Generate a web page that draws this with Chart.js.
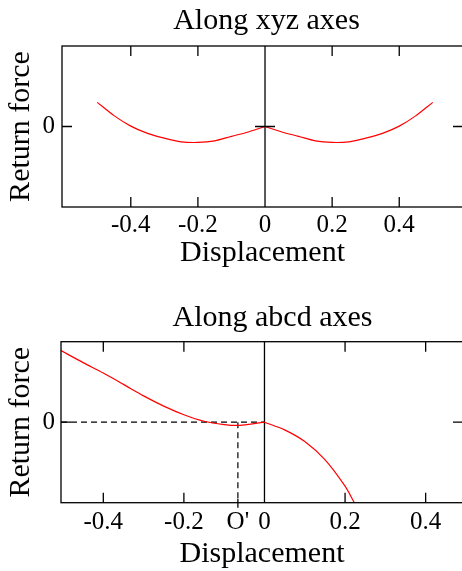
<!DOCTYPE html>
<html>
<head>
<meta charset="utf-8">
<script src="https://cdn.jsdelivr.net/npm/chart.js@4/dist/chart.umd.min.js"></script>
<style>
  html, body { margin: 0; padding: 0; background: #fff; overflow: hidden; }
  canvas { display: block; }
</style>
</head>
<body>
<canvas id="chartXyz" width="533" height="280"></canvas>
<canvas id="chartAbcd" width="545" height="300"></canvas>
<script>
// values (force in arbitrary units, 0 = no return force)
const xyzX = [-0.5, -0.45, -0.4, -0.35, -0.3, -0.25, -0.2, -0.15, -0.1, -0.05, 0,
  0.05, 0.1, 0.15, 0.2, 0.25, 0.3, 0.35, 0.4, 0.45, 0.5];
const xyzForce = [0.3, 0.135, 0.005, -0.085, -0.145, -0.19, -0.198, -0.178, -0.122, -0.068, 0,
  -0.068, -0.122, -0.178, -0.198, -0.19, -0.145, -0.085, 0.005, 0.135, 0.3];
const xyzTicks = [-0.4, -0.2, 0, 0.2, 0.4];
const xyzTickLabels = ["-0.4", "-0.2", "0", "0.2", "0.4"];

const abcdX = [-0.505, -0.45, -0.4, -0.35, -0.3, -0.25, -0.2, -0.15, -0.1, -0.066, -0.03, 0,
  0.05, 0.1, 0.15, 0.2, 0.223];
const abcdForce = [0.89, 0.74, 0.61, 0.47, 0.327, 0.2, 0.093, 0.012, -0.029, -0.04, -0.02, 0,
  -0.095, -0.24, -0.465, -0.795, -1.0];
const oPrime = -0.066;
const abcdTicks = [-0.4, -0.2, oPrime, 0, 0.2, 0.4];
const abcdTickLabels = ["-0.4", "-0.2", "O'", "0", "0.2", "0.4"];

const yTicks = [0];
const yRange = [-1, 1];

Chart.defaults.color = "#000";
Chart.defaults.font.family = "'Liberation Serif', 'Times New Roman', serif";

// frame with inward tick marks, like the old plotting package did
const frameTicks = {
	id: "frameTicks",
	afterDatasetsDraw(chart, args, opts) {
		const { ctx, chartArea: a, scales } = chart;
		const x = scales.x, y = scales.y;
		ctx.save();
		ctx.strokeStyle = "#000";
		ctx.lineWidth = 1.3;
		ctx.strokeRect(a.left, a.top, a.right - a.left, a.bottom - a.top);
		ctx.beginPath();
		opts.marks.forEach((v) => {
			const px = x.getPixelForValue(v);
			ctx.moveTo(px, a.top);
			ctx.lineTo(px, a.top + 10);
			ctx.moveTo(px, a.bottom);
			ctx.lineTo(px, a.bottom - 10);
		});
		(opts.outMarks || []).forEach((v) => {
			const px = x.getPixelForValue(v);
			ctx.moveTo(px, a.bottom - 4);
			ctx.lineTo(px, a.bottom + 5);
		});
		yTicks.forEach((v) => {
			const py = y.getPixelForValue(v);
			ctx.moveTo(a.left, py);
			ctx.lineTo(a.left + 10, py);
			ctx.moveTo(a.right, py);
			ctx.lineTo(a.right - 10, py);
			if (opts.centerTick) {
				const p0 = x.getPixelForValue(0);
				ctx.moveTo(p0 - 10, py);
				ctx.lineTo(p0 + 10, py);
			}
		});
		ctx.stroke();
		ctx.restore();
	},
};

function pts(xs, ys) {
	return xs.map((v, i) => ({ x: v, y: ys[i] }));
}

function makeChart(id, cfg) {
	const ctx = document.getElementById(id).getContext("2d");
	return new Chart(ctx, {
		type: "line",
		data: { datasets: cfg.datasets },
		options: {
			responsive: false,
			animation: false,
			events: [],
			layout: { padding: 0 },
			elements: { point: { radius: 0 } },
			plugins: {
				legend: { display: false },
				tooltip: { enabled: false },
				title: {
					display: true,
					text: cfg.title,
					font: { size: 30, weight: "normal" },
					padding: cfg.titlePad,
				},
				frameTicks: { marks: cfg.marks, outMarks: cfg.outMarks, centerTick: cfg.centerTick },
			},
			scales: {
				x: {
					type: "linear",
					min: cfg.xRange[0],
					max: cfg.xRange[1],
					grid: { display: false, drawTicks: false },
					border: { display: false },
					afterBuildTicks: (s) => {
						s.ticks = cfg.ticks.map((v) => ({ value: v }));
					},
					afterFit: (s) => {
						s.height = cfg.xAxisHeight;
					},
					ticks: {
						autoSkip: false,
						maxRotation: 0,
						minRotation: 0,
						padding: cfg.xTickPad,
						font: { size: 25 },
						callback: (v, i) => cfg.tickLabels[i],
					},
					title: {
						display: true,
						text: "Displacement",
						font: { size: 30 },
						padding: { top: 0, bottom: cfg.xTitlePad },
					},
				},
				y: {
					type: "linear",
					position: "left",
					min: yRange[0],
					max: yRange[1],
					grid: { display: false, drawTicks: false },
					border: { display: false },
					afterBuildTicks: (s) => {
						s.ticks = yTicks.map((v) => ({ value: v }));
					},
					afterFit: (s) => {
						s.width = cfg.yAxisWidth;
					},
					ticks: { padding: cfg.yTickPad, font: { size: 25 } },
					title: {
						display: true,
						text: "Return force",
						font: { size: 30 },
						padding: { top: 3, bottom: 0 },
					},
				},
				// empty axis on the right, the frame runs past the picture edge
				yRight: {
					type: "linear",
					position: "right",
					display: true,
					grid: { display: false, drawTicks: false },
					border: { display: false },
					ticks: { display: false },
					afterFit: (s) => {
						s.width = cfg.rightGap;
					},
				},
			},
		},
		plugins: [frameTicks],
	});
}

const red = { borderColor: "#ff0000", borderWidth: 1.2, tension: 0.3, fill: false };
const black = { borderColor: "#000", borderWidth: 1.3, tension: 0, fill: false };

const xyzZero = xyzX.indexOf(0);
makeChart("chartXyz", {
	title: "Along xyz axes",
	titlePad: { top: 3, bottom: 7 },
	xRange: [-0.605, 0.59],
	ticks: xyzTicks,
	tickLabels: xyzTickLabels,
	marks: [-0.4, -0.2, 0.2, 0.4],
	centerTick: true,
	xAxisHeight: 73,
	xTickPad: 3,
	xTitlePad: 9,
	yAxisWidth: 62,
	yTickPad: 7,
	rightGap: 70,
	datasets: [
		{ ...red, data: pts(xyzX.slice(0, xyzZero + 1), xyzForce.slice(0, xyzZero + 1)) },
		{ ...red, data: pts(xyzX.slice(xyzZero), xyzForce.slice(xyzZero)) },
		{ ...black, data: pts([0, 0], yRange) },
	],
});

const abcdZero = abcdX.indexOf(0);
const abcdXRange = [-0.505, 0.4927];
makeChart("chartAbcd", {
	title: "Along abcd axes",
	titlePad: { top: 20, bottom: 5.7 },
	xRange: abcdXRange,
	ticks: abcdTicks,
	tickLabels: abcdTickLabels,
	marks: [-0.4, -0.2, 0.2, 0.4],
	outMarks: [oPrime],
	centerTick: false,
	xAxisHeight: 77.3,
	xTickPad: 5,
	xTitlePad: 8,
	yAxisWidth: 61,
	yTickPad: 6,
	rightGap: 82,
	datasets: [
		{ ...red, data: pts(abcdX.slice(0, abcdZero + 1), abcdForce.slice(0, abcdZero + 1)) },
		{ ...red, data: pts(abcdX.slice(abcdZero), abcdForce.slice(abcdZero)) },
		{ ...black, data: pts([0, 0], yRange) },
		{ ...black, borderWidth: 1.2, borderDash: [6, 4], data: pts([abcdXRange[0], 0], [0, 0]) },
		{ ...black, borderWidth: 1.2, borderDash: [6, 4], data: pts([oPrime, oPrime], [0, yRange[0]]) },
	],
});
</script>
</body>
</html>
